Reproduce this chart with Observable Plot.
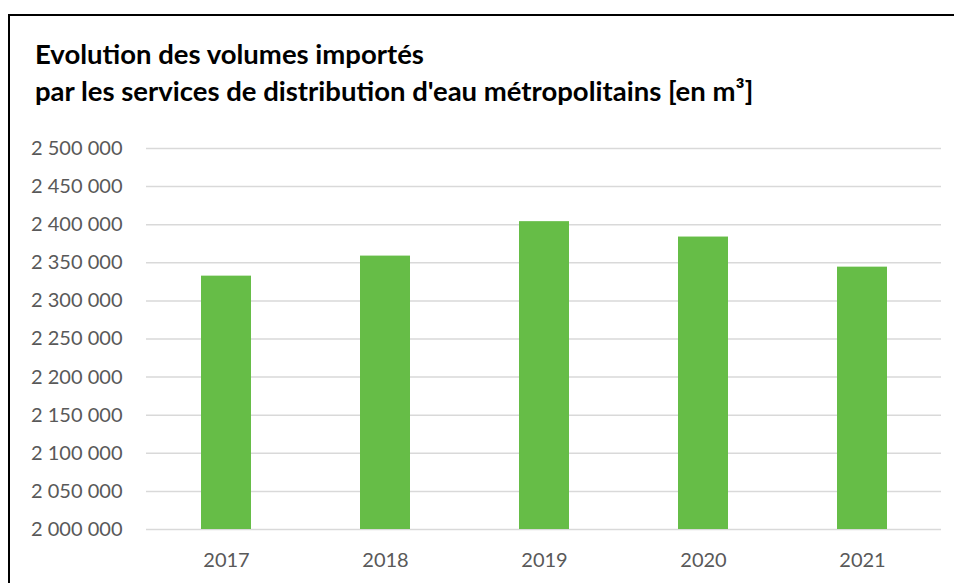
<!DOCTYPE html>
<html>
<head>
<meta charset="utf-8">
<script src="https://cdn.jsdelivr.net/npm/d3@7"></script>
<script src="https://cdn.jsdelivr.net/npm/@observablehq/plot@0.6"></script>
<style>
  html, body { margin: 0; padding: 0; background: #fff; }
  #wrap { position: relative; width: 954px; height: 583px; overflow: hidden; background: #fff; }
  #frame { position: absolute; left: 8px; top: 14px; width: 1000px; height: 700px;
           border-left: 2px solid #000; border-top: 2px solid #000; }
  #title { position: absolute; left: 35px; top: 35px; font-family: Lato, sans-serif; font-weight: bold;
           font-size: 27.5px; line-height: 37px; color: #000; white-space: nowrap; }
  #chart { position: absolute; left: 0; top: 0; }
</style>
</head>
<body>
<div id="wrap">
  <div id="frame"></div>
  <div id="chart"></div>
  <div id="title">Evolution des volumes importés<br>par les services de distribution d'eau métropolitains [en m³]</div>
</div>
<script>
const years = ["2017", "2018", "2019", "2020", "2021"];
const volumes = [2332500, 2358800, 2404000, 2383800, 2344300];
const yTicks = [2000000, 2050000, 2100000, 2150000, 2200000, 2250000, 2300000, 2350000, 2400000, 2450000, 2500000];

const data = years.map((year, i) => ({year, volume: volumes[i]}));
const fmt = v => d3.format(",")(v).replace(/,/g, " ");

const chart = Plot.plot({
  width: 954,
  height: 583,
  marginLeft: 146,
  marginRight: 13,
  marginTop: 148,
  marginBottom: 54,
  style: {fontFamily: "Lato, sans-serif", fontSize: "20px", color: "#595959", background: "transparent"},
  x: {type: "band", domain: years, paddingInner: 0.686, paddingOuter: 0.343, label: null},
  y: {domain: [2000000, 2500000], label: null},
  marks: [
    Plot.gridY(yTicks, {stroke: "#d9d9d9", strokeOpacity: 1, strokeWidth: 1.5}),
    Plot.barY(data, {x: "year", y1: 2000000, y2: "volume", fill: "#66bd47"}),
    Plot.axisY(yTicks, {tickSize: 0, tickPadding: 24, tickFormat: fmt, label: null}),
    Plot.axisX({tickSize: 0, tickPadding: 23, label: null})
  ]
});
document.getElementById("chart").appendChild(chart);
</script>
</body>
</html>
